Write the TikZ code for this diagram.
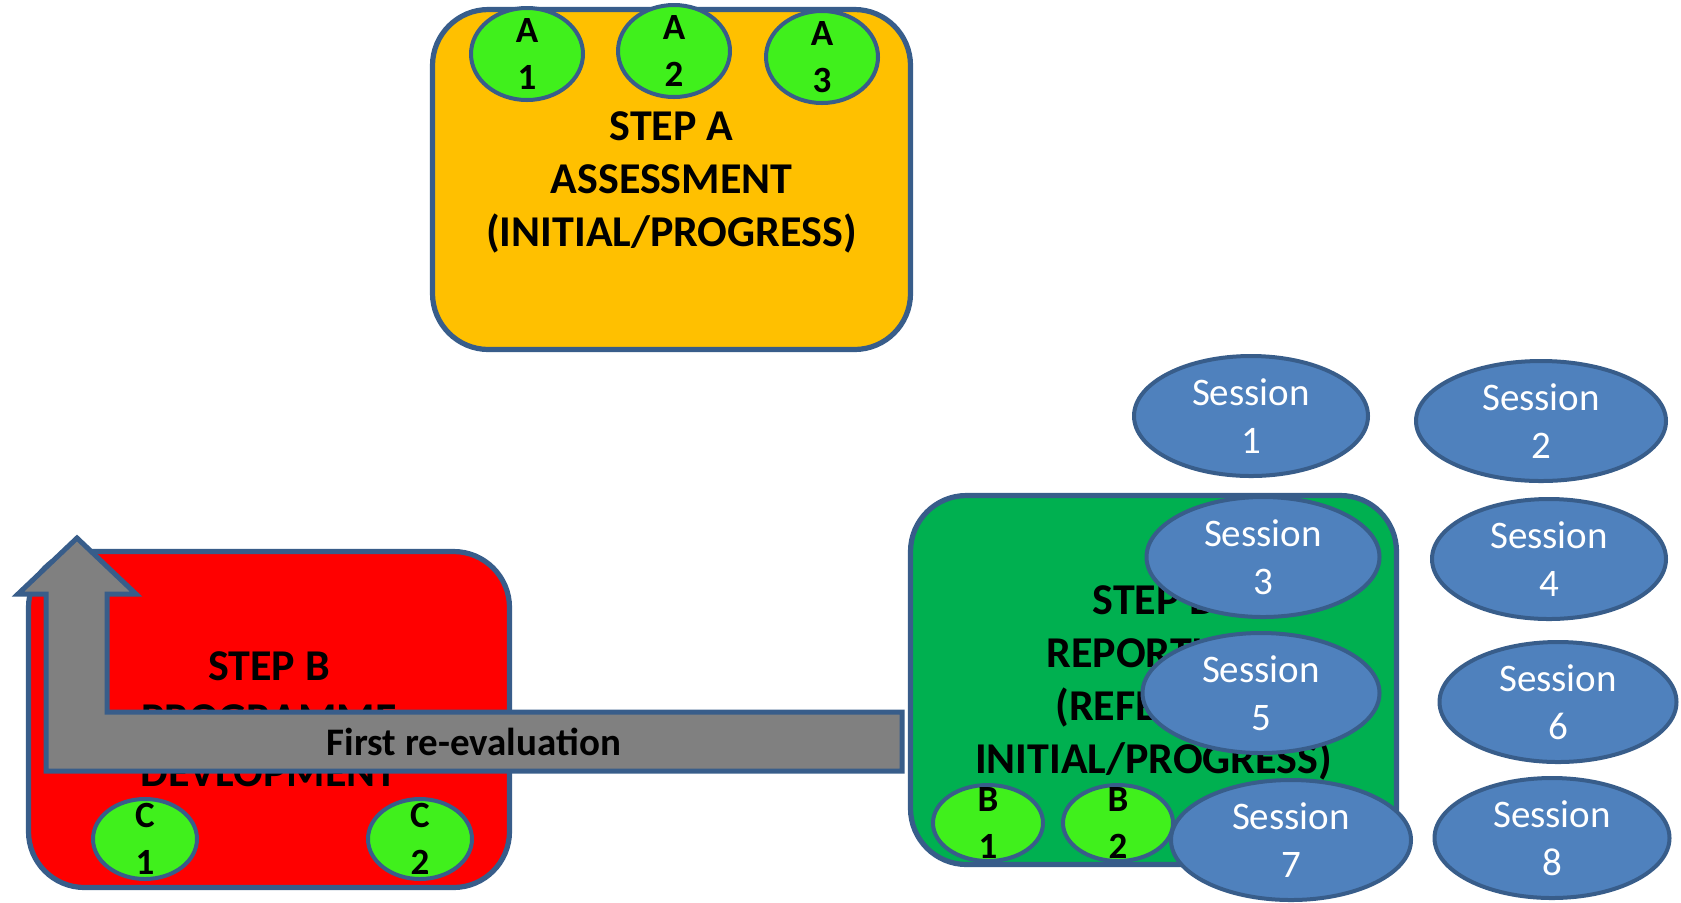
\documentclass[tikz,border=0pt]{standalone}
\usepackage{fontspec}
\setmainfont{Carlito}
\usetikzlibrary{shapes.geometric}
\definecolor{StepOrange}{HTML}{FFC000}
\definecolor{StepRed}{HTML}{FF0000}
\definecolor{StepGreen}{HTML}{00B050}
\definecolor{SubGreen}{HTML}{40F01C}
\definecolor{SessionBlue}{HTML}{4F81BD}
\definecolor{EdgeBlue}{HTML}{385D8A}
\definecolor{ArrowGrey}{HTML}{808080}

\begin{document}
\begin{tikzpicture}[
    x=0.5pt, y=-0.5pt,
    stepbox/.style={draw=EdgeBlue, line width=2.6pt, rounded corners=28pt,
        align=center, inner sep=0pt, text depth=0pt,
        font=\fontsize{22}{26.5}\selectfont\bfseries},
    subitem/.style={ellipse, draw=EdgeBlue, line width=2pt, fill=SubGreen,
        inner sep=0pt},
    subtext/.style={shape=rectangle, draw=none, fill=none, align=center,
        inner sep=0pt, minimum width=0pt, minimum height=0pt, text=black,
        font=\fontsize{18.5}{23.5}\selectfont\bfseries},
    session/.style={ellipse, draw=EdgeBlue, line width=2pt, fill=SessionBlue,
        inner sep=0pt, minimum height=60pt},
    sesstext/.style={shape=rectangle, draw=none, fill=none, align=center,
        inner sep=0pt, minimum width=0pt, minimum height=0pt, text=white,
        font=\fontsize{19.5}{24}\selectfont},
    reeval/.style={draw=EdgeBlue, line width=2.5pt, fill=ArrowGrey},
]
\useasboundingbox (0,0) rectangle (1681,902);

% step A
\node[stepbox, fill=StepOrange, minimum width=239pt, minimum height=170pt]
    (assess) at (671.5,179.5) {STEP A\\ASSESSMENT\\(INITIAL/PROGRESS)};
\foreach \n/\px/\py in {1/527/54, 2/674/51, 3/822/57}
    \node[subitem, minimum width=56pt, minimum height=46pt,
          label={[subtext]center:{A\\\n}}] (a\n) at (\px,\py) {};

% step B, programme
\node[stepbox, fill=StepRed, minimum width=240.5pt, minimum height=168pt]
    (develop) at (269,719.5) {STEP B\\PROGRAMME\\DEVLOPMENT};
\foreach \n/\px in {1/145, 2/420}
    \node[subitem, minimum width=52pt, minimum height=40pt,
          label={[subtext]center:{C\\\n}}] (c\n) at (\px,839) {};

% re-evaluation arrow
\draw[reeval] (902,712) -- (107,712) -- (107,594) -- (136,594) -- (77,538)
    -- (18,594) -- (46,594) -- (46,771) -- (902,771) -- cycle;
\node[font=\fontsize{19.5}{24}\selectfont\bfseries] (evallabel) at (474,742)
    {First re-evaluation};

% step B, reporting
\node[stepbox, fill=StepGreen, minimum width=243pt, minimum height=184.5pt]
    (report) at (1153.5,680)
    {STEP B\\REPORTING\\(REFERRAL\\INITIAL/PROGRESS)};
\foreach \n/\px in {1/988, 2/1118}
    \node[subitem, minimum width=55pt, minimum height=38pt,
          label={[subtext]center:{B\\\n}}] (b\n) at (\px,823) {};

% sessions
\foreach \n/\px/\py/\w in {1/1251/416/117, 2/1541/421/125, 3/1263/557/116.5,
                           4/1549/559/117, 5/1261/693/118.5, 6/1558/702/118.5,
                           7/1291/840/120, 8/1552/838/117.5}
    \node[session, minimum width=\w pt, label={[sesstext]center:{Session\\\n}}]
        (s\n) at (\px,\py) {};

\end{tikzpicture}
\end{document}
